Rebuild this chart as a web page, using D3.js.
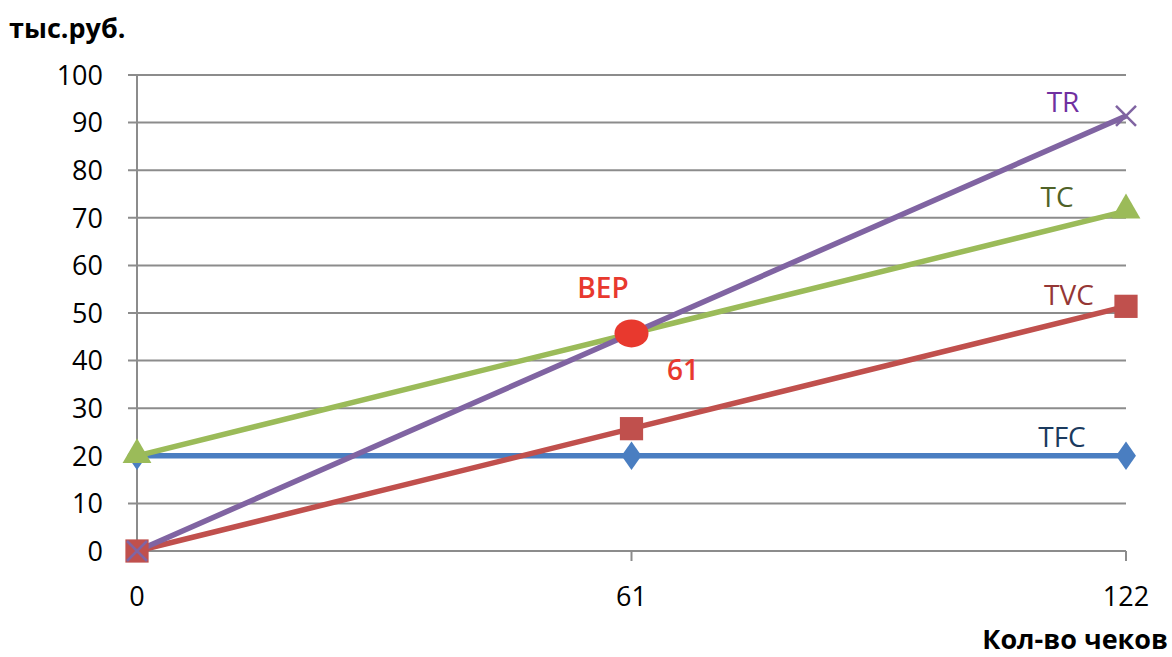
<!DOCTYPE html>
<html>
<head>
<meta charset="utf-8">
<script src="https://cdn.jsdelivr.net/npm/d3@7"></script>
<style>
  html, body { margin: 0; padding: 0; background: #fff; }
  svg { display: block; font-family: "Open Sans", "Liberation Sans", sans-serif; }
</style>
</head>
<body>
<svg id="chart" width="1172" height="657"></svg>
<script>
// Break-even chart: costs and revenue vs. number of receipts
const xValues = [0, 61, 122];
const yTicks = [0, 10, 20, 30, 40, 50, 60, 70, 80, 90, 100];
const tfc = [20, 20, 20];
const tvc = [0, 25.7, 51.4];
const tc = [20, 45.7, 71.4];
const tr = [0, 45.7, 91.4];
const bep = { x: 61, y: 45.7 };
const yLabel = "тыс.руб.";
const xLabel = "Кол-во чеков";

const svg = d3.select("#chart");
const margin = { left: 137, right: 46, top: 75, bottom: 106 };
const W = 1172, H = 657;

const x = d3.scaleLinear().domain([0, 122]).range([margin.left, W - margin.right]);
const y = d3.scaleLinear().domain([0, 100]).range([H - margin.bottom, margin.top]);

const grid = "#8c8c8c";

// horizontal gridlines with short ticks left of the axis
svg.append("g").selectAll("line").data(yTicks).join("line")
  .attr("x1", x(0) - 9).attr("x2", x(122))
  .attr("y1", d => y(d)).attr("y2", d => y(d))
  .attr("stroke", grid).attr("stroke-width", 2);

// vertical axis
svg.append("line")
  .attr("x1", x(0)).attr("x2", x(0))
  .attr("y1", y(100)).attr("y2", y(0) + 10)
  .attr("stroke", grid).attr("stroke-width", 2);

// x ticks
svg.append("g").selectAll("line").data(xValues).join("line")
  .attr("x1", d => x(d)).attr("x2", d => x(d))
  .attr("y1", y(0)).attr("y2", y(0) + 10)
  .attr("stroke", grid).attr("stroke-width", 2);

// y tick labels
svg.append("g").selectAll("text").data(yTicks).join("text")
  .attr("x", 103).attr("y", d => y(d)).attr("dy", "0.36em")
  .attr("text-anchor", "end").attr("font-size", 27).attr("fill", "#000")
  .text(d => d);

// x tick labels
svg.append("g").selectAll("text").data(xValues).join("text")
  .attr("x", d => x(d)).attr("y", 596).attr("dy", "0.36em")
  .attr("text-anchor", "middle").attr("font-size", 27).attr("fill", "#000")
  .text(d => d);

// axis titles
svg.append("text").attr("x", 9).attr("y", 28).attr("dy", "0.36em")
  .attr("font-size", 27).attr("font-weight", "bold").text(yLabel);
svg.append("text").attr("x", 1168).attr("y", 639).attr("dy", "0.36em")
  .attr("text-anchor", "end")
  .attr("font-size", 27).attr("font-weight", "bold").text(xLabel);

const line = d3.line().x((d, i) => x(xValues[i])).y(d => y(d));

const series = [
  { key: "TFC", values: tfc, color: "#4A7EC1", label: "#1B3A5E", lx: 1062, ly: 437 },
  { key: "TVC", values: tvc, color: "#C0504D", label: "#953735", lx: 1069, ly: 295 },
  { key: "TC", values: tc, color: "#9BBB59", label: "#4F6228", lx: 1057, ly: 197 },
  { key: "TR", values: tr, color: "#8064A2", label: "#7030A0", lx: 1063, ly: 102 }
];

series.forEach(s => {
  svg.append("path").datum(s.values)
    .attr("d", line).attr("fill", "none")
    .attr("stroke", s.color).attr("stroke-width", 5.5)
    .attr("stroke-linejoin", "round");
});

// markers
const sym = (type, size) => d3.symbol().type(type).size(size)();

// TFC diamonds
svg.append("g").selectAll("path").data(tfc).join("path")
  .attr("d", sym(d3.symbolDiamond, 260))
  .attr("transform", (d, i) => `translate(${x(xValues[i])},${y(d)}) scale(1.15,0.95)`)
  .attr("fill", "#4A7EC1");

// TVC squares
svg.append("g").selectAll("path").data(tvc).join("path")
  .attr("d", sym(d3.symbolSquare, 540))
  .attr("transform", (d, i) => `translate(${x(xValues[i])},${y(d)})`)
  .attr("fill", "#C0504D");

// TC triangles at the ends
svg.append("g").selectAll("path").data([0, 2]).join("path")
  .attr("d", sym(d3.symbolTriangle, 360))
  .attr("transform", i => `translate(${x(xValues[i])},${y(tc[i]) - 1})`)
  .attr("fill", "#9BBB59");

// TR crosses at the ends
svg.append("g").selectAll("path").data([0, 2]).join("path")
  .attr("d", i => {
    const cx = x(xValues[i]), cy = y(tr[i]), r = 10;
    return `M${cx - r},${cy - r}L${cx + r},${cy + r}M${cx - r},${cy + r}L${cx + r},${cy - r}`;
  })
  .attr("stroke", "#8064A2").attr("stroke-width", 2.5).attr("fill", "none");

// break-even point
svg.append("ellipse")
  .attr("cx", x(bep.x)).attr("cy", y(bep.y))
  .attr("rx", 17).attr("ry", 14).attr("fill", "#E8392E");
svg.append("text").attr("x", 603).attr("y", 288).attr("dy", "0.36em")
  .attr("text-anchor", "middle").attr("font-size", 28).attr("font-weight", 600)
  .attr("fill", "#E8392E").text("BEP");
svg.append("text").attr("x", 683).attr("y", 370).attr("dy", "0.36em")
  .attr("text-anchor", "middle").attr("font-size", 28).attr("font-weight", 600)
  .attr("fill", "#E8392E").text(bep.x);

// series labels
svg.append("g").selectAll("text").data(series).join("text")
  .attr("x", d => d.lx).attr("y", d => d.ly).attr("dy", "0.36em")
  .attr("text-anchor", "middle").attr("font-size", 28)
  .attr("fill", d => d.label).text(d => d.key);
</script>
</body>
</html>
